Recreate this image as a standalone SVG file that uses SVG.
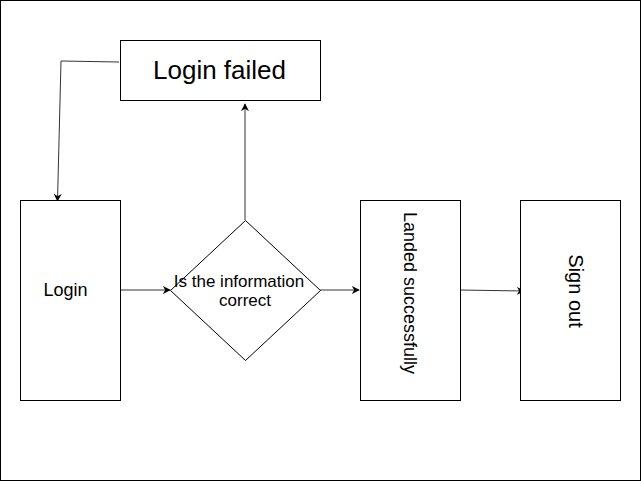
<svg xmlns="http://www.w3.org/2000/svg" width="641" height="482" viewBox="0 0 641 482">
<style>
.box{fill:#fff;stroke:#000;stroke-width:1}
.edge{fill:none;stroke:#333;stroke-width:1}
text{font-family:"Liberation Sans",Arial,sans-serif;fill:#000;text-anchor:middle;dominant-baseline:central}
</style>
<defs>
<marker id="arr" viewBox="0 0 10 10" refX="9" refY="5" markerWidth="8" markerHeight="8" markerUnits="userSpaceOnUse" orient="auto">
<path d="M0,0 L10,5 L0,10 L3,5 Z" fill="#000"/>
</marker>
</defs>
<rect x="0.5" y="0.5" width="640" height="480" fill="#fff" stroke="#000"/>
<g id="connectors">
<path class="edge" d="M119,62 L61,61 L57.5,201" marker-end="url(#arr)"/>
<path class="edge" d="M245,220 L245,104" marker-end="url(#arr)"/>
<path class="edge" d="M120,290 L170,290" marker-end="url(#arr)"/>
<path class="edge" d="M320,290 L359,290" marker-end="url(#arr)"/>
<path class="edge" d="M460,290 L524,291" marker-end="url(#arr)"/>
</g>
<g id="login-failed">
<rect class="box" x="120.5" y="40.5" width="200" height="60"/>
<text x="219.5" y="70" font-size="26">Login failed</text>
</g>
<g id="login">
<rect class="box" x="20.5" y="200.5" width="100" height="200"/>
<text x="65.5" y="290" font-size="18">Login</text>
</g>
<g id="decision">
<path class="box" d="M245.5,220.5 L320.5,290.5 L245.5,360.5 L170.5,290.5 Z"/>
<text x="239" y="281" font-size="17">Is the information</text>
<text x="245" y="300" font-size="17">correct</text>
</g>
<g id="landed">
<rect class="box" x="360.5" y="200.5" width="100" height="200"/>
<text x="410" y="293" font-size="18" transform="rotate(90 410 293)">Landed successfully</text>
</g>
<g id="sign-out">
<rect class="box" x="520.5" y="200.5" width="100" height="200"/>
<text x="576" y="291" font-size="20" transform="rotate(90 576 291)">Sign out</text>
</g>
</svg>
